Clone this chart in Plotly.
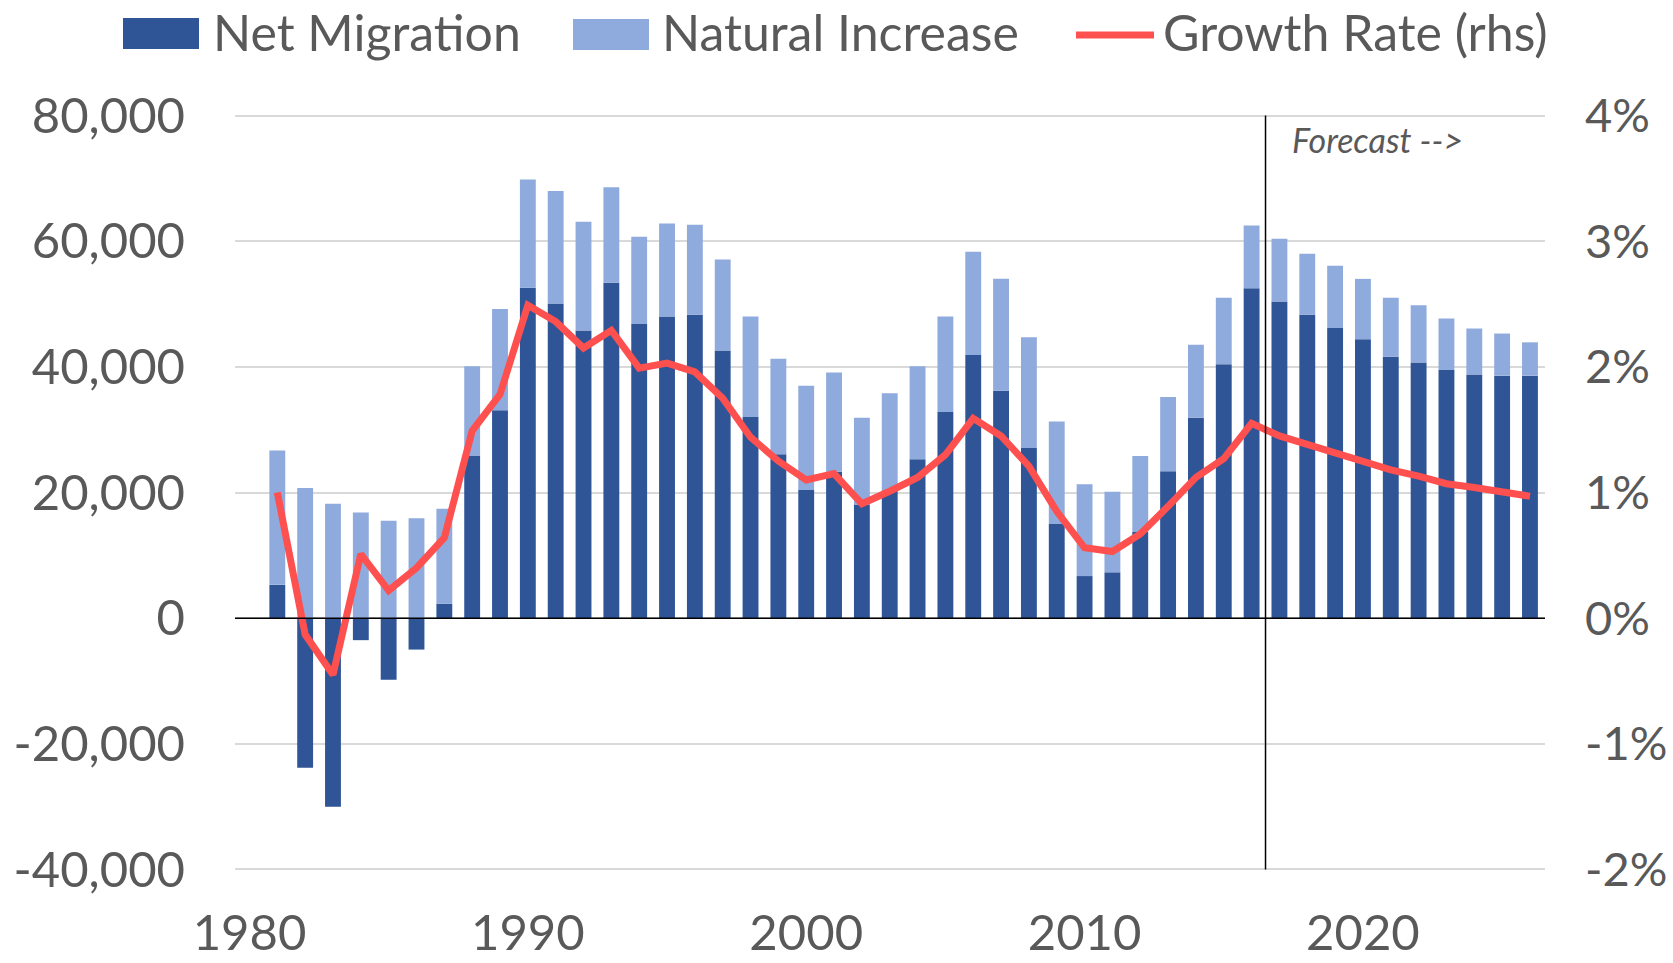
import plotly.graph_objects as go

years = list(range(1981, 2027))

net_migration = [
    5300, -23800, -30000, -3500, -9800, -5000, 2300, 25900, 33100, 52600,
    50100, 45800, 53400, 46800, 48000, 48300, 42600, 32000, 26100, 20400,
    23300, 18100, 20300, 25300, 32800, 41900, 36200, 27100, 15000, 6700,
    7300, 13700, 23400, 31900, 40400, 52500, 50400, 48300, 46200, 44400,
    41600, 40700, 39500, 38800, 38600, 38600,
]

natural_increase = [
    21400, 20700, 18200, 16800, 15500, 15900, 15100, 14200, 16100, 17200,
    17900, 17300, 15200, 13900, 14800, 14300, 14500, 16000, 15200, 16600,
    15800, 13800, 15500, 14800, 15200, 16400, 17800, 17600, 16300, 14600,
    12800, 12100, 11800, 11600, 10600, 10000, 10000, 9700, 9900, 9600,
    9400, 9100, 8200, 7300, 6700, 5300,
]

growth_rate_pct = [
    1.00, -0.13, -0.45, 0.51, 0.22, 0.40, 0.64, 1.49, 1.78, 2.49,
    2.36, 2.15, 2.29, 1.99, 2.03, 1.96, 1.75, 1.44, 1.25, 1.10,
    1.15, 0.91, 1.01, 1.12, 1.30, 1.59, 1.45, 1.21, 0.85, 0.56,
    0.53, 0.67, 0.89, 1.12, 1.27, 1.55, 1.45, 1.38, 1.32, 1.25,
    1.18, 1.13, 1.07, 1.04, 1.01, 0.97,
]

x_ticks = [1980, 1990, 2000, 2010, 2020]
x_ticklabels = ["1980", "1990", "2000", "2010", "2020"]
left_ticks = [-40000, -20000, 0, 20000, 40000, 60000, 80000]
left_ticklabels = ["-40,000", "-20,000", "0", "20,000", "40,000", "60,000", "80,000"]
right_ticks = [-2, -1, 0, 1, 2, 3, 4]
right_ticklabels = ["-2%", "-1%", "0%", "1%", "2%", "3%", "4%"]
forecast_start = 2016.5

DARK = "#2F5597"
LIGHT = "#8FAADC"
RED = "#FF5050"
TXT = "#595959"
FONT = "Lato"
FS = 49
RFS = 47
LFS = 50

fig = go.Figure()
fig.add_trace(go.Bar(x=years, y=net_migration, name="Net Migration",
                     marker=dict(color=DARK, line=dict(width=0)), width=0.57))
fig.add_trace(go.Bar(x=years, y=natural_increase, name="Natural Increase",
                     marker=dict(color=LIGHT, line=dict(width=0)), width=0.57))
fig.add_trace(go.Scatter(x=years, y=growth_rate_pct, name="Growth Rate (rhs)",
                         mode="lines", line=dict(color=RED, width=7),
                         yaxis="y2"))

fig.update_layout(
    width=1673, height=963,
    barmode="relative",
    showlegend=False,
    plot_bgcolor="white", paper_bgcolor="white",
    margin=dict(l=235, r=128, t=114, b=91.5, autoexpand=False),
    font=dict(family=FONT, size=FS, color=TXT),
    xaxis=dict(range=[1979.48, 2026.54], tickvals=x_ticks, ticktext=x_ticklabels,
               showgrid=False, zeroline=False, showline=False, ticks="",
               automargin=False,
               ticklabelstandoff=29, tickfont=dict(size=FS, color=TXT, family=FONT)),
    yaxis=dict(range=[-40240, 80240], tickvals=left_ticks, ticktext=left_ticklabels,
               showgrid=True, gridcolor="#D9D9D9", gridwidth=1.5,
               zeroline=False, showline=False, ticks="", automargin=False,
               ticklabelstandoff=49, tickfont=dict(size=FS, color=TXT, family=FONT)),
    yaxis2=dict(range=[-2.012, 4.012], tickvals=right_ticks, ticktext=right_ticklabels,
                overlaying="y", side="right", showgrid=False, zeroline=False,
                showline=False, ticks="", ticklabelstandoff=39, automargin=False,
                tickfont=dict(size=RFS, color=TXT, family=FONT)),
)

shapes = [
    dict(type="line", xref="paper", yref="y", x0=0, x1=1, y0=0, y1=0,
         line=dict(color="black", width=1.5), layer="above"),
    dict(type="line", xref="x", yref="y", x0=forecast_start, x1=forecast_start,
         y0=-40000, y1=80000, line=dict(color="black", width=1.5), layer="above"),
]

# custom legend, positioned relative to the plot area (px 235..1545, 871.5..114)
def px_x(p):
    return (p - 235) / 1310.0

def px_y(p):
    return (871.5 - p) / 757.5

shapes.append(dict(type="rect", xref="paper", yref="paper",
                   x0=px_x(123), x1=px_x(199), y0=px_y(49), y1=px_y(18),
                   fillcolor=DARK, line=dict(width=0)))
shapes.append(dict(type="rect", xref="paper", yref="paper",
                   x0=px_x(573), x1=px_x(649), y0=px_y(50), y1=px_y(19),
                   fillcolor=LIGHT, line=dict(width=0)))
shapes.append(dict(type="line", xref="paper", yref="paper",
                   x0=px_x(1076), x1=px_x(1154), y0=px_y(35), y1=px_y(35),
                   line=dict(color=RED, width=7)))
fig.update_layout(shapes=shapes)

legend_items = [("Net Migration", 211), ("Natural Increase", 660), ("Growth Rate (rhs)", 1161)]
annotations = []
for label, xpx in legend_items:
    annotations.append(dict(text=label, xref="paper", yref="paper", x=px_x(xpx), y=px_y(32),
                            xanchor="left", yanchor="middle", showarrow=False,
                            font=dict(family=FONT, size=LFS, color=TXT)))
annotations.append(dict(text="<i>Forecast --></i>", xref="x", yref="y",
                        x=2017.38, y=76200, xanchor="left", yanchor="middle",
                        showarrow=False, font=dict(family=FONT, size=34, color=TXT)))
fig.update_layout(annotations=annotations)

fig.write_html("out.html", config={"displayModeBar": False},
               post_script="document.body.style.margin='0';")
